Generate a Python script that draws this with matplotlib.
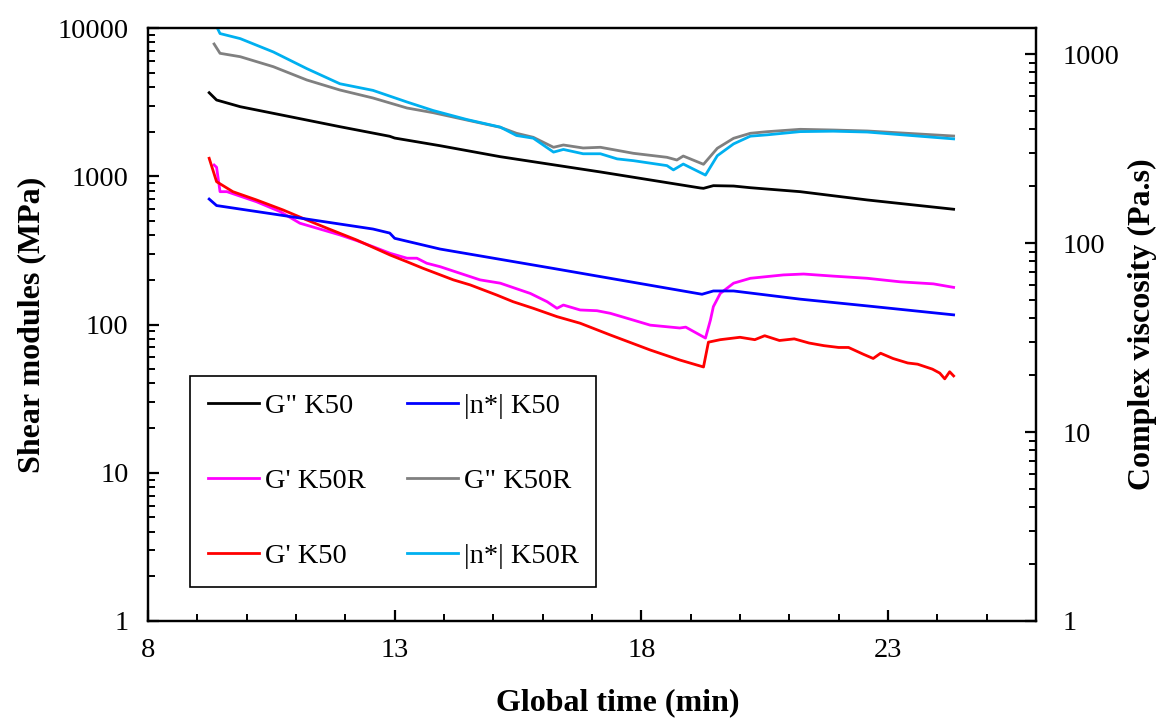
import matplotlib
matplotlib.use("Agg")
import matplotlib.pyplot as plt
from matplotlib.ticker import FixedLocator, MultipleLocator, LogLocator, NullFormatter

plt.rcParams['font.family'] = ['Liberation Serif', 'DejaVu Serif']

# G" K50 (left axis, MPa)
t_gpp_k50 = [9.24, 9.39, 9.87, 10.88, 11.89, 12.9, 13.0, 13.92, 15.14, 17.17, 19.2, 19.26,
             19.46, 19.87, 20.21, 21.22, 22.58, 24.33]
gpp_k50 = [3660, 3268, 2945, 2522, 2159, 1860, 1810, 1607, 1355, 1069, 833, 829,
           864, 859, 837, 787, 692, 599]

# |n*| K50 (right axis, Pa.s)
t_eta_k50 = [9.24, 9.39, 10.54, 11.22, 12.56, 12.9, 13.0, 13.92, 16.22, 19.23, 19.46, 19.87,
             21.22, 22.58, 24.33]
eta_k50 = [171, 158, 142.5, 134, 118.7, 113, 106, 93, 73.4, 53.6, 55.8, 55.8,
           50.5, 46.5, 41.7]

# G' K50R (left axis)
t_gp_k50r = [9.34, 9.39, 9.46, 9.6, 10.2, 10.68, 11.08, 11.55, 11.89, 12.23, 12.56, 12.91,
             13.25, 13.45, 13.65, 13.92, 14.73, 15.14, 15.75, 16.09, 16.29, 16.42, 16.76,
             17.1, 17.37, 17.84, 18.18, 18.78, 18.9, 19.3, 19.4, 19.46, 19.6, 19.87, 20.21,
             20.88, 21.29, 21.89, 22.58, 23.25, 23.92, 24.33]
gp_k50r = [1191, 1150, 787, 787, 673, 577, 482, 434, 402, 368, 335, 302,
           280, 280, 259, 245.5, 200, 190, 162, 142.5, 128.6, 135.3, 125.3,
           123.9, 119, 107, 99, 94.7, 96, 81, 107, 132, 162, 190, 205,
           216, 219, 212, 205, 194, 188, 178]

# G" K50R (left axis)
t_gpp_k50r = [9.34, 9.46, 9.87, 10.54, 11.22, 11.89, 12.56, 13.25, 13.78, 14.46, 15.14,
              15.47, 15.81, 16.22, 16.42, 16.82, 17.17, 17.84, 18.52, 18.72, 18.85, 19.26,
              19.54, 19.87, 20.21, 20.55, 21.22, 21.89, 22.58, 24.33]
gpp_k50r = [7800, 6750, 6403, 5483, 4459, 3817, 3372, 2886, 2684, 2395, 2139,
            1949, 1831, 1568, 1625, 1551, 1568, 1428, 1342, 1287, 1369, 1204,
            1544, 1803, 1949, 1998, 2073, 2051, 2020, 1868]

# G' K50 (left axis)
t_gp_k50 = [9.24, 9.39, 9.72, 10.2, 10.74, 11.22, 11.63, 12.23, 12.91, 13.25, 13.58, 14.19,
            14.53, 15.07, 15.4, 15.81, 16.29, 16.76, 17.37, 18.18, 18.78, 19.26, 19.36, 19.6,
            20.0, 20.3, 20.5, 20.8, 21.1, 21.4, 21.7, 22.0, 22.2, 22.5, 22.7, 22.85, 23.1,
            23.4, 23.6, 23.9, 24.05, 24.15, 24.25, 24.33]
gp_k50 = [1322, 919, 787, 692, 592, 507, 446, 371.5, 294, 265, 239, 200,
          185, 158, 142.5, 128.6, 113, 102, 85, 67.3, 57.6, 51.7, 76, 79,
          82, 79, 84, 78, 80, 75, 72, 70, 70, 63, 59, 64, 59,
          55, 54, 50, 47, 43, 48, 45]

# |n*| K50R (right axis)
t_eta_k50r = [9.39, 9.46, 9.87, 10.54, 11.22, 11.89, 12.56, 13.25, 13.78, 14.46, 15.14,
              15.47, 15.81, 16.22, 16.42, 16.82, 17.17, 17.51, 17.84, 18.52, 18.65, 18.85,
              19.3, 19.54, 19.87, 20.21, 20.55, 21.22, 21.89, 22.58, 24.33]
eta_k50r = [1400, 1285, 1208, 1027, 838, 697, 643, 558, 503, 451, 411,
            371, 359, 303, 313, 297, 297, 279, 273, 257, 244, 262,
            229, 290, 335, 368, 374, 389, 391, 387, 356]

fig = plt.figure(figsize=(11.73, 7.2), dpi=100)
ax1 = fig.add_axes([148 / 1173, 99 / 720, 888 / 1173, 593 / 720])
ax2 = ax1.twinx()

lw = 2.0
l1, = ax1.plot(t_gpp_k50, gpp_k50, color='black', lw=lw, label='G" K50')
l3, = ax1.plot(t_gp_k50r, gp_k50r, color='#FF00FF', lw=lw, label="G' K50R")
l5, = ax1.plot(t_gp_k50, gp_k50, color='#FF0000', lw=lw, label="G' K50")
l4, = ax1.plot(t_gpp_k50r, gpp_k50r, color='#808080', lw=lw, label='G" K50R')
l2, = ax2.plot(t_eta_k50, eta_k50, color='#0000FF', lw=lw, label='|n*| K50')
l6, = ax2.plot(t_eta_k50r, eta_k50r, color='#00B0F0', lw=lw, label='|n*| K50R')

ax1.set_xlim(8, 26)
ax1.set_yscale('log')
ax1.set_ylim(1, 10000)
ax2.set_yscale('log')
ax2.set_ylim(1, 1375)

ax1.xaxis.set_major_locator(FixedLocator([8, 13, 18, 23]))
ax1.xaxis.set_minor_locator(MultipleLocator(1))

for ax in (ax1, ax2):
    ax.yaxis.set_major_locator(LogLocator(base=10, numticks=10))
    ax.yaxis.set_minor_locator(LogLocator(base=10, subs=range(2, 10), numticks=10))
    ax.yaxis.set_minor_formatter(NullFormatter())
    for s in ax.spines.values():
        s.set_linewidth(1.6)

ax1.set_yticks([1, 10, 100, 1000, 10000])
ax1.set_yticklabels(['1', '10', '100', '1000', '10000'])
ax2.set_yticks([1, 10, 100, 1000])
ax2.set_yticklabels(['1', '10', '100', '1000'])

fs = 20.5
ax1.tick_params(axis='both', which='major', direction='in', length=8, width=1.6,
                labelsize=fs)
ax1.tick_params(axis='both', which='minor', direction='in', length=5, width=1.4)
ax1.tick_params(axis='x', which='major', pad=12)
ax1.tick_params(axis='y', which='major', pad=14)
ax2.tick_params(axis='y', which='major', direction='in', length=8, width=1.6,
                labelsize=fs, pad=19)
ax2.tick_params(axis='y', which='minor', direction='in', length=5, width=1.4)

ax1.set_xlabel('Global time (min)', fontsize=23, fontweight='bold')
ax1.xaxis.set_label_coords(0.529, -0.113)
ax1.set_ylabel('Shear modules (MPa)', fontsize=23, fontweight='bold', labelpad=8)
ax2.set_ylabel('Complex viscosity (Pa.s)', fontsize=23, fontweight='bold', labelpad=6)

handles = [l1, l3, l5, l2, l4, l6]
leg = ax2.legend(handles=handles, labels=[h.get_label() for h in handles], ncol=2,
                 loc='lower left', bbox_to_anchor=(0.047, 0.057), fontsize=fs,
                 frameon=True, fancybox=False, framealpha=1, edgecolor='black',
                 labelspacing=1.72, handlelength=1.8, handletextpad=0.2,
                 columnspacing=1.45, borderpad=0.63, borderaxespad=0)
leg.get_frame().set_linewidth(1.2)

fig.savefig('out.png', dpi=100)
